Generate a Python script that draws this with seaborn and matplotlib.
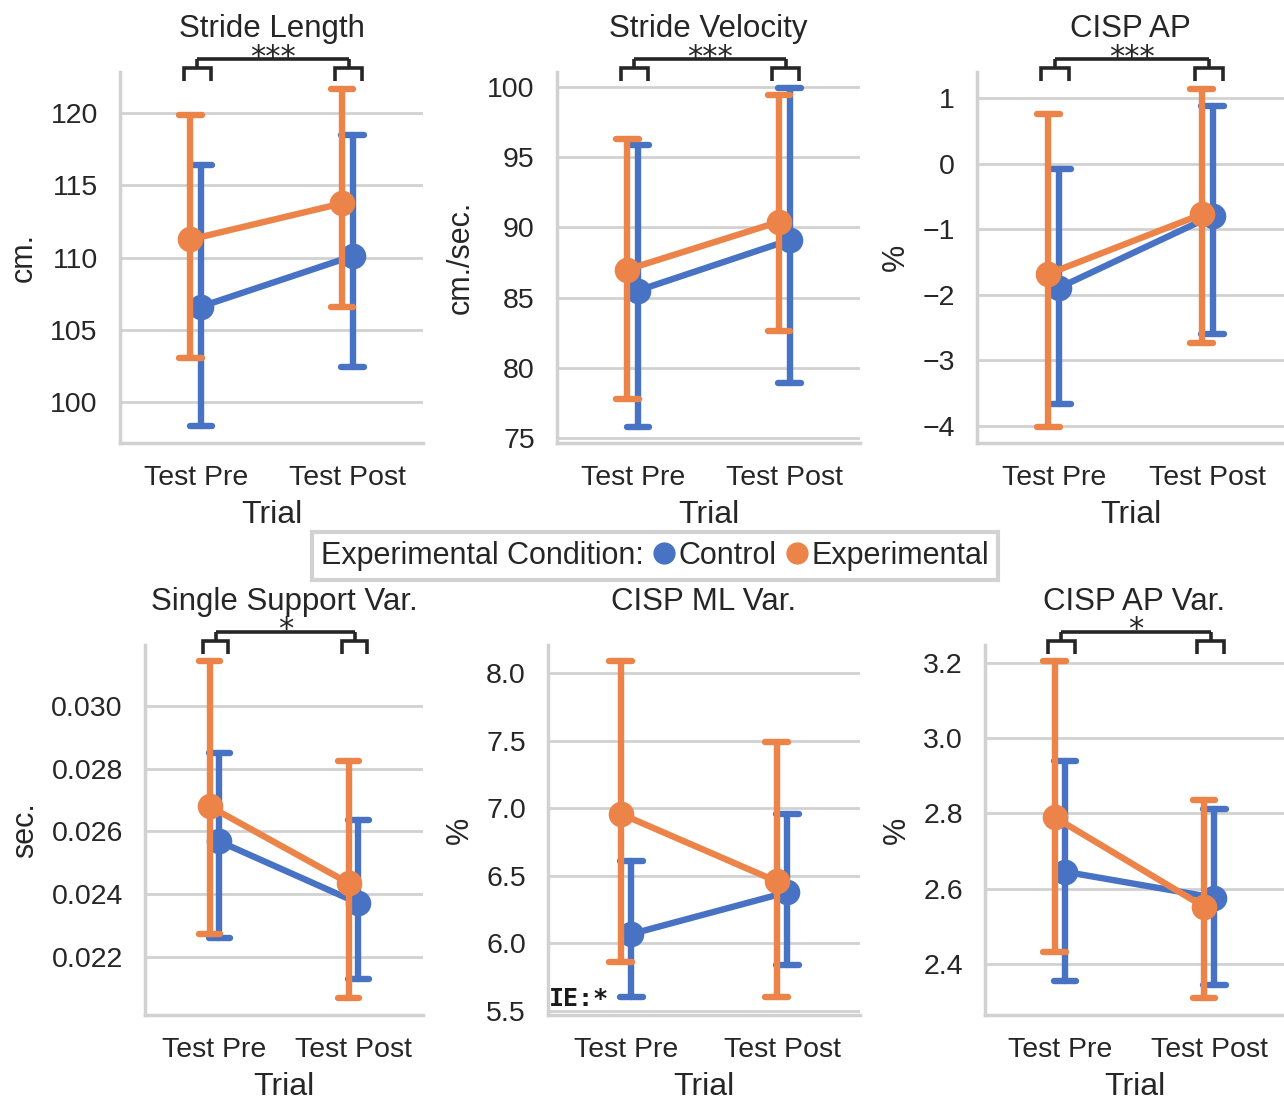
import numpy as np
import pandas as pd
import matplotlib
matplotlib.use("Agg")
import matplotlib.pyplot as plt
import matplotlib.transforms as mtransforms
from matplotlib.lines import Line2D
import seaborn as sns

# ---------------- data ----------------
trials = ["Test Pre", "Test Post"]
conditions = ["Control", "Experimental"]

titles = ["Stride Length", "Stride Velocity", "CISP AP",
          "Single Support Var.", "CISP ML Var.", "CISP AP Var."]
ylabels = ["cm.", "cm./sec.", "%", "sec.", "%", "%"]

# Stride Length
sl_ctrl_mean = [106.6, 110.1]
sl_ctrl_lo = [98.3, 102.4]
sl_ctrl_hi = [116.4, 118.5]
sl_exp_mean = [111.25, 113.75]
sl_exp_lo = [103.05, 106.6]
sl_exp_hi = [119.9, 121.7]

# Stride Velocity
sv_ctrl_mean = [85.5, 89.1]
sv_ctrl_lo = [75.8, 78.9]
sv_ctrl_hi = [95.9, 99.9]
sv_exp_mean = [87.0, 90.4]
sv_exp_lo = [77.8, 82.6]
sv_exp_hi = [96.3, 99.4]

# CISP AP
ap_ctrl_mean = [-1.89, -0.79]
ap_ctrl_lo = [-3.67, -2.59]
ap_ctrl_hi = [-0.08, 0.88]
ap_exp_mean = [-1.68, -0.77]
ap_exp_lo = [-4.02, -2.74]
ap_exp_hi = [0.76, 1.14]

# Single Support Var.
ss_ctrl_mean = [0.02568, 0.02371]
ss_ctrl_lo = [0.02261, 0.02130]
ss_ctrl_hi = [0.02850, 0.02635]
ss_exp_mean = [0.02680, 0.02435]
ss_exp_lo = [0.02272, 0.02067]
ss_exp_hi = [0.03144, 0.02826]

# CISP ML Var.
ml_ctrl_mean = [6.07, 6.38]
ml_ctrl_lo = [5.60, 5.84]
ml_ctrl_hi = [6.61, 6.96]
ml_exp_mean = [6.96, 6.46]
ml_exp_lo = [5.86, 5.60]
ml_exp_hi = [8.09, 7.49]

# CISP AP Var.
apv_ctrl_mean = [2.645, 2.576]
apv_ctrl_lo = [2.355, 2.345]
apv_ctrl_hi = [2.940, 2.813]
apv_exp_mean = [2.790, 2.552]
apv_exp_lo = [2.432, 2.310]
apv_exp_hi = [3.205, 2.835]

stars = ["***", "***", "***", "*", None, "*"]
ylims = [(97.15, 122.85), (74.64, 101.07), (-4.26, 1.40),
         (0.02014, 0.03195), (5.47, 8.21), (2.264, 3.248)]
yticks = [[100, 105, 110, 115, 120], [75, 80, 85, 90, 95, 100],
          [-4, -3, -2, -1, 0, 1],
          [0.022, 0.024, 0.026, 0.028, 0.030],
          [5.5, 6.0, 6.5, 7.0, 7.5, 8.0], [2.4, 2.6, 2.8, 3.0, 3.2]]
yfmts = ["{:.0f}", "{:.0f}", "{:.0f}", "{:.3f}", "{:.1f}", "{:.1f}"]

panels = [
    (sl_ctrl_mean, sl_ctrl_lo, sl_ctrl_hi, sl_exp_mean, sl_exp_lo, sl_exp_hi),
    (sv_ctrl_mean, sv_ctrl_lo, sv_ctrl_hi, sv_exp_mean, sv_exp_lo, sv_exp_hi),
    (ap_ctrl_mean, ap_ctrl_lo, ap_ctrl_hi, ap_exp_mean, ap_exp_lo, ap_exp_hi),
    (ss_ctrl_mean, ss_ctrl_lo, ss_ctrl_hi, ss_exp_mean, ss_exp_lo, ss_exp_hi),
    (ml_ctrl_mean, ml_ctrl_lo, ml_ctrl_hi, ml_exp_mean, ml_exp_lo, ml_exp_hi),
    (apv_ctrl_mean, apv_ctrl_lo, apv_ctrl_hi, apv_exp_mean, apv_exp_lo, apv_exp_hi),
]

# ---------------- style ----------------
sns.set_theme(style="whitegrid")
plt.rcParams["font.family"] = ["Liberation Sans", "DejaVu Sans"]
plt.rcParams["text.color"] = "0.15"
plt.rcParams["axes.labelcolor"] = "0.15"
plt.rcParams["xtick.color"] = "0.15"
plt.rcParams["ytick.color"] = "0.15"
palette = {"Control": "#4873C4", "Experimental": "#EC8449"}

W, H = 1284, 1101
fig = plt.figure(figsize=(W / 100, H / 100), dpi=100)

# axes boxes in pixels: left, right, top, bottom
boxes = [(120, 423, 72, 443), (557, 860, 72, 443), (977, 1284, 72, 443),
         (145, 423, 645, 1015), (548, 860, 645, 1015), (985, 1284, 645, 1015)]


def long_table(vals):
    cm, cl, ch, em, el, eh = vals
    rows = []
    for cond, (m, l, h) in zip(conditions, [(cm, cl, ch), (em, el, eh)]):
        for i, t in enumerate(trials):
            for v in (l[i], m[i], h[i]):
                rows.append({"Trial": t, "Condition": cond, "value": v})
    return pd.DataFrame(rows)


for k in range(6):
    l, r, t, b = boxes[k]
    ax = fig.add_axes([l / W, 1 - b / H, (r - l) / W, (b - t) / H])
    df = long_table(panels[k])
    sns.pointplot(data=df, x="Trial", y="value", hue="Condition",
                  order=trials, hue_order=conditions, palette=palette,
                  estimator="median", errorbar=("pi", 100),
                  dodge=-0.07, capsize=0.15, linewidth=4.6,
                  markersize=15, err_kws={"linewidth": 4.6},
                  legend=False, ax=ax)
    ax.set_xlim(-0.5, 1.5)
    ax.set_ylim(*ylims[k])
    ax.set_yticks(yticks[k])
    ax.set_yticklabels([yfmts[k].format(v).replace("-", "\u2212")
                        for v in yticks[k]])
    ax.tick_params(axis="both", labelsize=20.5, pad=16, length=0)
    ax.set_xlabel("Trial", fontsize=23, labelpad=6)
    ax.set_ylabel(ylabels[k], fontsize=22, labelpad=8)
    ax.set_title(titles[k], fontsize=22.5, pad=25)
    ax.grid(axis="x", visible=False)
    ax.grid(axis="y", color="0.82", linewidth=2)
    sns.despine(ax=ax)
    for s in ("left", "bottom"):
        ax.spines[s].set_color("0.82")
        ax.spines[s].set_linewidth(2.5)

    if stars[k]:
        tr = mtransforms.blended_transform_factory(ax.transData, ax.transAxes)
        ah = b - t
        y_leg = 1 - 9 / ah
        y_top = 1 + 4 / ah
        y_big = 1 + 13 / ah
        y_star = 1 + 15 / ah
        centers = [i + 0.01 for i in range(len(trials))]
        hw = 0.09
        kw = dict(color="0.15", linewidth=2.6, transform=tr, clip_on=False,
                  solid_capstyle="butt", solid_joinstyle="miter")
        for c in centers:
            ax.plot([c - hw, c - hw, c + hw, c + hw],
                    [y_leg, y_top, y_top, y_leg], **kw)
            ax.plot([c, c], [y_top, y_big], **kw)
        ax.plot([centers[0], centers[-1]], [y_big, y_big], **kw)
        ax.text(np.mean(centers), y_star, stars[k], transform=tr,
                ha="center", va="center", fontsize=22, color="0.15",
                family="DejaVu Sans")

    if k == 4:
        ax.text(0.004, 0.012, "IE:*", transform=ax.transAxes, ha="left",
                va="bottom", fontsize=18, fontweight="bold",
                family="DejaVu Sans Mono", color="0.1")

# ---------------- legend ----------------
handles = [Line2D([], [], marker="o", linestyle="", markersize=15,
                  color=palette[c]) for c in conditions]
leg = fig.legend(handles=handles, labels=conditions,
                 title="Experimental Condition:", ncol=2, loc="center",
                 bbox_to_anchor=(655 / W, 1 - 556 / H), fontsize=22,
                 title_fontsize=22, frameon=True, fancybox=False,
                 handlelength=0.75, handletextpad=0.1, columnspacing=0.3,
                 borderpad=0.3)
leg.get_frame().set_edgecolor("0.78")
leg.get_frame().set_linewidth(3)
vp = leg.get_children()[0]
title_box = vp.get_children()[0]
hpack = vp.get_children()[1]
vp._children = [hpack]
hpack._children = [title_box] + hpack.get_children()

fig.savefig("out.png", dpi=100)
